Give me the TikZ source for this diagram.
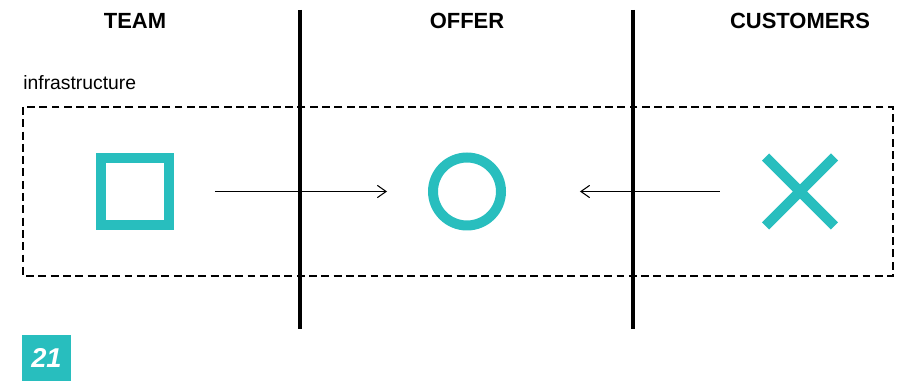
\documentclass[tikz,border=0pt]{standalone}
\usepackage{fontspec}
\setmainfont{Liberation Sans}
\usetikzlibrary{arrows.meta,shapes.misc}
\definecolor{teal}{RGB}{40,190,190}
\begin{document}
\begin{tikzpicture}[x=0.02cm, y=-0.02cm,
		head/.style={font=\fontsize{12.5}{14}\selectfont\bfseries},
		mark shape/.style={draw=teal, line width=0.2cm, minimum size=1.36cm, inner sep=0pt},
		flow/.style={-{Straight Barb[length=5pt, width=7pt]}, line width=0.6pt}]
	\useasboundingbox (0,0) rectangle (912,381);
	
	% Vùng infrastructure (khung nét đứt)
	\draw[dash pattern=on 4.5pt off 2.5pt, line width=0.6pt] (23,107) rectangle (893,276);
	\node[anchor=base west, inner sep=0pt, font=\fontsize{11}{13}\selectfont] (infra) at (23,90) {infrastructure};
	
	% Ba cột tiêu đề
	\node[head] (hTeam) at (135,21) {TEAM};
	\node[head] (hOffer) at (467,21) {OFFER};
	\node[head] (hCust) at (800,21) {CUSTOMERS};
	
	% Hai đường chia cột
	\draw[line width=2.4pt] (300,10) -- (300,329);
	\draw[line width=2.4pt] (633,10) -- (633,329);
	
	% Các ký hiệu
	\node[mark shape, rectangle] (team) at (135,191.5) {};
	\node[mark shape, circle] (offer) at (467,191.5) {};
	\node[mark shape, cross out, minimum size=1.18cm] (cust) at (800,191.5) {};
	
	% Mũi tên
	\draw[flow, shorten <=0.82cm, shorten >=0.82cm] (team) -- (offer);
	\draw[flow, shorten <=0.92cm, shorten >=1.48cm] (cust) -- (offer);
	
	% Số trang
	\fill[teal] (22,335) rectangle (71,381);
	\node[text=white, font=\fontsize{15.5}{17}\selectfont\bfseries\itshape] (page) at (46.5,358) {21};
\end{tikzpicture}
\end{document}
